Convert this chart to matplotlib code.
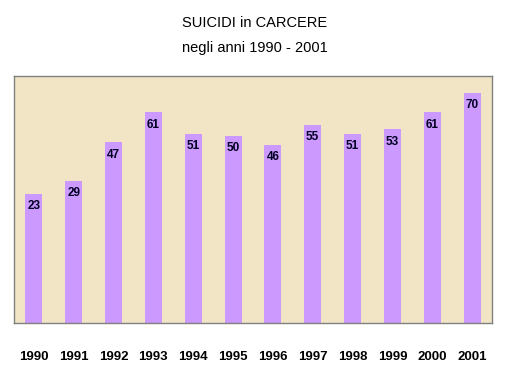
import matplotlib
matplotlib.use("Agg")
import matplotlib.pyplot as plt
import numpy as np

years = ["1990", "1991", "1992", "1993", "1994", "1995",
         "1996", "1997", "1998", "1999", "2000", "2001"]
suicides = [23, 29, 47, 61, 51, 50, 46, 55, 51, 53, 61, 70]

title_line1 = "SUICIDI in CARCERE"
title_line2 = "negli anni 1990 - 2001"

ymin, ymax = -37, 78

fig = plt.figure(figsize=(5.09, 3.75), dpi=100)
fig.patch.set_facecolor("white")
ax = fig.add_axes([14/509, 1 - 323/375, 478/509, (323 - 75.7)/375])
ax.set_facecolor("#F2E5C6")

x = np.arange(len(years))
vals = np.array(suicides, dtype=float)
ax.bar(x, vals - ymin, bottom=ymin, width=0.43, color="#CC99FF", edgecolor="none", zorder=2)

for xi, v in zip(x, suicides):
    ax.annotate(str(v), (xi, v), xytext=(0, -4.5), textcoords="offset points",
                ha="center", va="top", fontsize=8.5, fontweight="bold",
                color="#000022", family=["Liberation Sans", "DejaVu Sans"], zorder=3)

ax.set_xlim(-0.5, len(years) - 0.5)
ax.set_ylim(ymin, ymax)
ax.set_yticks([])
ax.set_xticks(x)
ax.set_xticklabels(years, fontsize=9.5, fontweight="bold",
                   family=["Liberation Sans", "DejaVu Sans"])
ax.tick_params(axis="x", length=0, pad=20)
for s in ax.spines.values():
    s.set_color("#808080")
    s.set_linewidth(1.0)

fig.text(0.5, 1 - 23/375, title_line1, ha="center", va="center", fontsize=10.5,
         family=["Liberation Sans", "DejaVu Sans"])
fig.text(0.5, 1 - 48/375, title_line2, ha="center", va="center", fontsize=10.5,
         family=["Liberation Sans", "DejaVu Sans"])

fig.savefig("out.png", dpi=100, facecolor="white")
